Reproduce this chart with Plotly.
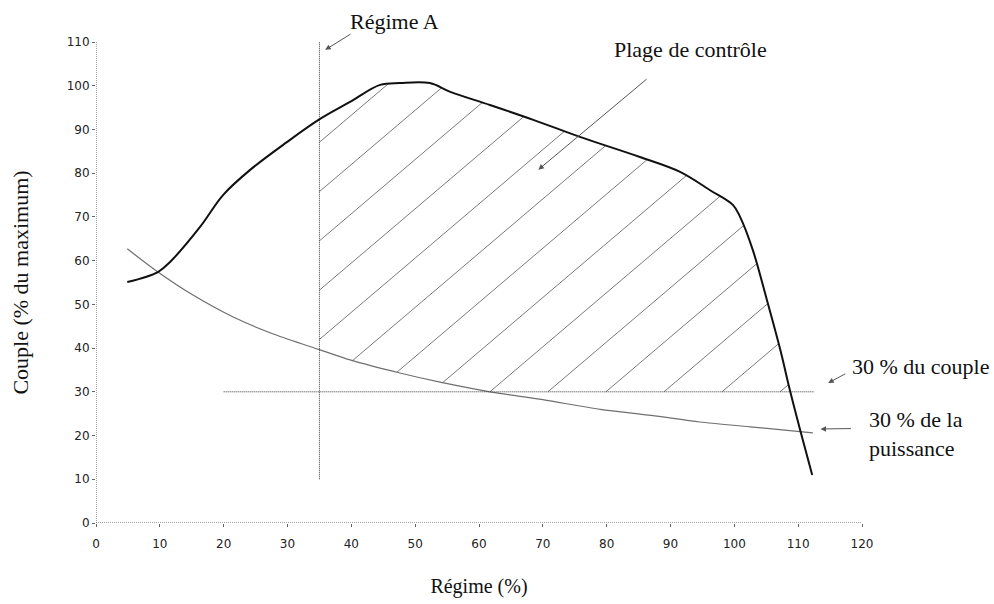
import numpy as np
import plotly.graph_objects as go

# ---- data ----
TORQUE_X = [4.9, 9.7, 11.6, 16.3, 19.9, 24.1, 29.9, 35.1, 39.8, 44.5, 47.6, 52.3, 55.5,
            61.7, 68.5, 75.8, 85.2, 91.5, 96.2, 99.8, 100.9, 102.9, 105.1, 107.2, 108.7, 110.3, 112.2]
TORQUE_Y = [55.1, 57.4, 59.7, 67.7, 75.0, 80.7, 87.1, 92.4, 96.3, 100.2, 100.6, 100.6, 98.6,
            95.6, 92.2, 88.3, 83.7, 80.3, 76.1, 72.7, 70.0, 62.4, 51.0, 39.6, 30.4, 21.3, 11.0]

POWER_X = [4.9, 9.7, 15.0, 21.5, 28.0, 35.1, 39.8, 47.6, 53.9, 61.7, 70.0, 79.0, 87.0, 94.6, 102.5, 112.3]
POWER_Y = [62.7, 57.4, 52.3, 47.1, 43.1, 39.6, 37.3, 34.3, 32.2, 30.0, 28.2, 26.0, 24.6, 23.1, 22.0, 20.6]

REGIME_A = 35
REGIME_A_Y = [10, 110]
TORQUE_30 = 30
TORQUE_30_X = [20, 112.5]

X_RANGE = [0, 120]
Y_RANGE = [0, 110]
X_TICKS = list(range(0, 121, 10))
Y_TICKS = list(range(0, 111, 10))

# hatch style (slope in y-units per x-unit, step in x-units, phase at y=30)
HATCH_SLOPE = 1.24
HATCH_STEP = 9.09
HATCH_X0 = 61.7

SERIF = "Liberation Serif"

# ---- hatch computation (control area) ----
tx = np.array(TORQUE_X); ty = np.array(TORQUE_Y)
px = np.array(POWER_X); py = np.array(POWER_Y)
desc = tx >= 95
x_end = float(np.interp(TORQUE_30, ty[desc][::-1], tx[desc][::-1]))
xs = np.linspace(REGIME_A, x_end, 400)
top = np.interp(xs, tx, ty)
bot = np.maximum(np.interp(xs, px, py), TORQUE_30)
poly_x = np.concatenate([xs, xs[::-1], xs[:1]])
poly_y = np.concatenate([top, bot[::-1], top[:1]])
c = poly_x - (poly_y - TORQUE_30) / HATCH_SLOPE
kmin = int(np.floor((c.min() - HATCH_X0) / HATCH_STEP)) - 1
kmax = int(np.ceil((c.max() - HATCH_X0) / HATCH_STEP)) + 1
hx, hy = [], []
for k in range(kmin, kmax + 1):
    ck = HATCH_X0 + k * HATCH_STEP
    pts = []
    for i in range(len(c) - 1):
        c1, c2 = c[i], c[i + 1]
        if c1 == c2:
            continue
        if (c1 - ck) * (c2 - ck) <= 0 and not (c2 == ck):
            t = (ck - c1) / (c2 - c1)
            pts.append((poly_x[i] + t * (poly_x[i + 1] - poly_x[i]),
                        poly_y[i] + t * (poly_y[i + 1] - poly_y[i])))
    pts.sort(key=lambda p: p[1])
    for j in range(0, len(pts) - 1, 2):
        hx += [pts[j][0], pts[j + 1][0], None]
        hy += [pts[j][1], pts[j + 1][1], None]

fig = go.Figure()

fig.add_trace(go.Scatter(x=hx, y=hy, mode="lines", line=dict(color="#7a7a7a", width=1),
                         hoverinfo="skip", showlegend=False))
fig.add_trace(go.Scatter(x=POWER_X, y=POWER_Y, mode="lines", line=dict(color="#6f6f6f", width=1.2,
                         shape="spline", smoothing=0.8), showlegend=False, name="30 % de la puissance"))
fig.add_trace(go.Scatter(x=TORQUE_30_X, y=[TORQUE_30, TORQUE_30], mode="lines",
                         line=dict(color="#333333", width=1, dash="1px,1px"), showlegend=False,
                         name="30 % du couple"))
fig.add_trace(go.Scatter(x=[REGIME_A, REGIME_A], y=REGIME_A_Y, mode="lines",
                         line=dict(color="#333333", width=1, dash="1px,1px"), showlegend=False,
                         name="Régime A"))
fig.add_trace(go.Scatter(x=TORQUE_X, y=TORQUE_Y, mode="lines", line=dict(color="#111111", width=2,
                         shape="spline", smoothing=1.0), showlegend=False, name="Couple"))

# axis lines (dotted)
fig.add_shape(type="line", x0=X_TICKS[0], x1=X_TICKS[-1], y0=0, y1=0, xref="x", yref="y",
              line=dict(color="#444444", width=1, dash="1px,1px"))
fig.add_shape(type="line", x0=0, x1=0, y0=Y_TICKS[0], y1=Y_TICKS[-1], xref="x", yref="y",
              line=dict(color="#444444", width=1, dash="1px,1px"))


def to_dom(x, y):
    return ((x - X_RANGE[0]) / (X_RANGE[1] - X_RANGE[0]),
            (y - Y_RANGE[0]) / (Y_RANGE[1] - Y_RANGE[0]))


def label(text, x, y, xanchor="center", align="center"):
    px_, py_ = to_dom(x, y)
    fig.add_annotation(x=px_, y=py_, xref="x domain", yref="y domain", text=text, showarrow=False,
                       xanchor=xanchor, yanchor="middle", align=align,
                       font=dict(family=SERIF, size=22, color="#111111"))


def arrow(x, y, ax, ay):
    hx_, hy_ = to_dom(x, y)
    tx_, ty_ = to_dom(ax, ay)
    fig.add_annotation(x=hx_, y=hy_, ax=tx_, ay=ty_, xref="x domain", yref="y domain",
                       axref="x domain", ayref="y domain",
                       text="", showarrow=True, arrowhead=2, arrowsize=1.1, arrowwidth=1,
                       arrowcolor="#555555")


label("Régime A", 46.7, 114.7)
arrow(35.9, 108.2, 40.1, 112.0)
label("Plage de contrôle", 93.1, 108.2)
arrow(69.3, 80.8, 86.5, 101.8)
label("30 % du couple", 129.2, 35.7)
arrow(114.7, 32.0, 117.6, 34.3)
label("30 % de la<br>puissance", 120.8, 20.3, xanchor="left", align="left")
arrow(113.5, 21.5, 118.5, 21.6)

fig.update_layout(
    width=994, height=604,
    margin=dict(l=96, r=132, t=42, b=81),
    paper_bgcolor="white", plot_bgcolor="white",
    showlegend=False,
    xaxis=dict(range=X_RANGE, tickvals=X_TICKS, ticks="outside", ticklen=3, tickcolor="#666666",
               showgrid=False, zeroline=False, showline=False,
               tickfont=dict(family="DejaVu Sans", size=12, color="#222222"),
               ticklabelstandoff=7,
               title=dict(text="Régime (%)", font=dict(family=SERIF, size=20, color="#111111"),
                          standoff=28)),
    yaxis=dict(range=Y_RANGE, tickvals=Y_TICKS, ticks="outside", ticklen=3, tickcolor="#666666",
               showgrid=False, zeroline=False, showline=False,
               tickfont=dict(family="DejaVu Sans", size=12, color="#222222"),
               title=dict(text="Couple (% du maximum)", font=dict(family=SERIF, size=22, color="#111111"),
                          standoff=31)),
)

fig.write_html("out.html")
